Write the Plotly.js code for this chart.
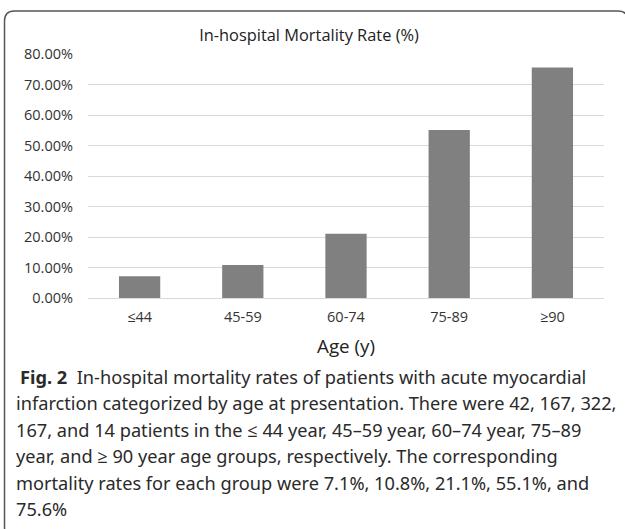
<!DOCTYPE html>
<html>
<head>
<meta charset="utf-8">
<script src="https://cdn.plot.ly/plotly-3.0.1.min.js"></script>
<style>
  html, body { margin: 0; padding: 0; background: #fff; }
  #chart { width: 625px; height: 529px; }
</style>
</head>
<body>
<div id="chart"></div>
<script>
// ---- data ----
const ageGroups = ["≤44", "45-59", "60-74", "75-89", "≥90"];
const mortalityRates = [7.1, 10.8, 21.1, 55.1, 75.6];
const chartTitle = "In-hospital Mortality Rate (%)";
const xTitle = "Age (y)";
const captionLines = [
  "<b>Fig. 2</b>\u00a0\u00a0In-hospital mortality rates of patients with acute myocardial",
  "infarction categorized by age at presentation. There were 42, 167, 322,",
  "167, and 14 patients in the \u2264 44 year, 45\u201359 year, 60\u201374 year, 75\u201389",
  "year, and \u2265 90 year age groups, respectively. The corresponding",
  "mortality rates for each group were 7.1%, 10.8%, 21.1%, 55.1%, and",
  "75.6%"
];

// ---- layout helpers (pixel -> paper) ----
const W = 625, H = 529;
const M = {l: 88, r: 21, t: 54, b: 231};
const PW = W - M.l - M.r, PH = H - M.t - M.b;
const px = x => (x - M.l) / PW;
const py = y => (H - M.b - y) / PH;

// rounded frame path in paper coords
function framePath(x0, y0, x1, y1, r) {
  const X0 = px(x0), X1 = px(x1), Y0 = py(y0), Y1 = py(y1);
  const rx = r / PW, ry = r / PH;
  return `M ${X0 + rx},${Y0} L ${X1 - rx},${Y0} Q ${X1},${Y0} ${X1},${Y0 - ry} ` +
         `L ${X1},${Y1 + ry} Q ${X1},${Y1} ${X1 - rx},${Y1} ` +
         `L ${X0 + rx},${Y1} Q ${X0},${Y1} ${X0},${Y1 + ry} ` +
         `L ${X0},${Y0 - ry} Q ${X0},${Y0} ${X0 + rx},${Y0} Z`;
}

const captionTop = 377, captionStep = 26.4;
const annotations = captionLines.map((t, i) => ({
  text: t, xref: 'paper', yref: 'paper',
  x: px(i === 0 ? 18 : 14), y: py(captionTop + i * captionStep),
  xanchor: 'left', yanchor: 'middle', showarrow: false,
  font: {family: 'Noto Sans, Open Sans, sans-serif', size: 18.2, color: '#2a2a2a'}
}));
annotations.push({
  text: xTitle, xref: 'paper', yref: 'paper',
  x: 0.5, y: py(346), xanchor: 'center', yanchor: 'middle', showarrow: false,
  font: {family: 'Open Sans, sans-serif', size: 18.8, color: '#222'}
});

const trace = {
  type: 'bar', x: ageGroups, y: mortalityRates,
  marker: {color: '#808080'}, hoverinfo: 'x+y'
};

const layout = {
  width: W, height: H,
  margin: M,
  paper_bgcolor: '#fff', plot_bgcolor: '#fff',
  showlegend: false,
  bargap: 0.6,
  title: {
    text: chartTitle, xref: 'container', x: 309 / W, xanchor: 'center',
    yref: 'container', y: 1 - 35 / H, yanchor: 'middle',
    font: {family: 'Open Sans, sans-serif', size: 16.4, color: '#222'}
  },
  xaxis: {
    type: 'category', showgrid: false, zeroline: false, showline: false,
    ticks: '', ticklabelstandoff: 8,
    tickfont: {family: 'Open Sans, sans-serif', size: 14.5, color: '#333'}
  },
  yaxis: {
    range: [0, 80], dtick: 10, tick0: 0,
    tickformat: '.2f', ticksuffix: '%',
    showgrid: true, gridcolor: '#d9d9d9', gridwidth: 1,
    zeroline: true, zerolinecolor: '#d9d9d9', zerolinewidth: 1,
    showline: false, ticks: '', ticklabelstandoff: 14,
    tickfont: {family: 'Open Sans, sans-serif', size: 14.5, color: '#333'}
  },
  annotations: annotations,
  shapes: [{
    type: 'path', xref: 'paper', yref: 'paper',
    path: framePath(4.5, 11, 628, 537, 10),
    line: {color: '#555', width: 1.5}, fillcolor: 'rgba(0,0,0,0)', layer: 'above'
  }]
};

Plotly.newPlot('chart', [trace], layout, {displayModeBar: false, staticPlot: true});
</script>
</body>
</html>
